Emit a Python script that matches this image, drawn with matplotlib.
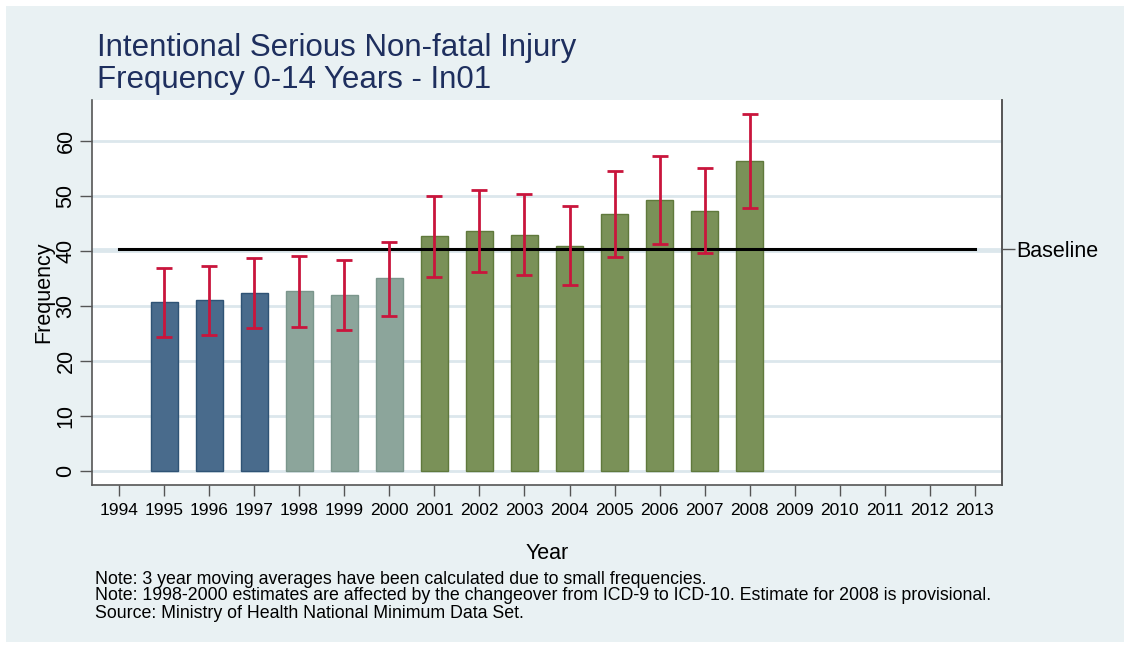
import matplotlib
matplotlib.use("Agg")
import matplotlib.pyplot as plt
from matplotlib.patches import Rectangle

years = [1995, 1996, 1997, 1998, 1999, 2000, 2001, 2002, 2003, 2004, 2005, 2006, 2007, 2008]
freq = [30.6, 31.0, 32.3, 32.6, 31.9, 35.0, 42.6, 43.6, 42.9, 40.9, 46.6, 49.3, 47.3, 56.3]
ci_low = [24.3, 24.6, 25.9, 26.2, 25.5, 28.2, 35.2, 36.1, 35.6, 33.7, 38.9, 41.3, 39.5, 47.8]
ci_high = [36.9, 37.3, 38.7, 39.1, 38.3, 41.6, 50.0, 51.1, 50.3, 48.2, 54.4, 57.3, 55.0, 64.8]
period = ["icd9", "icd9", "icd9", "change", "change", "change",
          "icd10", "icd10", "icd10", "icd10", "icd10", "icd10", "icd10", "icd10"]
baseline = 40.3
xtick_years = list(range(1994, 2014))
yticks = [0, 10, 20, 30, 40, 50, 60]

title_lines = ["Intentional Serious Non-fatal Injury", "Frequency 0-14 Years - In01"]
notes = ["Note: 3 year moving averages have been calculated due to small frequencies.",
         "Note: 1998-2000 estimates are affected by the changeover from ICD-9 to ICD-10. Estimate for 2008 is provisional.",
         "Source: Ministry of Health National Minimum Data Set."]

fill = {"icd9": "#496B8C", "change": "#8CA59B", "icd10": "#7A9158"}
edge = {"icd9": "#2F5375", "change": "#7B968C", "icd10": "#60793C"}

plt.rcParams['font.family'] = ['Liberation Sans', 'DejaVu Sans']

W, H = 1124, 648
fig = plt.figure(figsize=(W / 100, H / 100), dpi=100)
fig.patch.set_facecolor("white")
bg = "#E9F1F3"
fig.patches.append(Rectangle((6 / W, 6 / H), 1 - 6 / W, 1 - 12 / H, transform=fig.transFigure,
                             facecolor=bg, edgecolor="none", zorder=-10))

left, right = 91.7 / W, 1002.3 / W
bottom, top = 1 - 484.7 / H, 1 - 100 / H
ax = fig.add_axes([left, bottom, right - left, top - bottom])
ax.set_facecolor("white")

ax.set_xlim(1993.39, 2013.61)
ax.set_ylim(-2.55, 67.4)

grid_c = "#DCE7EC"
for yv in yticks + [baseline]:
    ax.axhline(yv, color=grid_c, lw=2, zorder=0)

for x, v, p in zip(years, freq, period):
    ax.bar(x, v, width=0.6, color=fill[p], edgecolor=edge[p], linewidth=1.0, zorder=2)

ax.plot([1994, 2013], [baseline, baseline], color="black", lw=2.2, zorder=3)

yerr = [[f - l for f, l in zip(freq, ci_low)], [h - f for f, h in zip(freq, ci_high)]]
ax.errorbar(years, freq, yerr=yerr, fmt="none", ecolor="#C9153C", elinewidth=2,
            capsize=6, capthick=2, zorder=4)

for s in ["left", "bottom", "right"]:
    ax.spines[s].set_color("#555555")
    ax.spines[s].set_linewidth(1.2)
ax.spines["top"].set_visible(False)

ax.set_yticks(yticks)
ax.set_yticklabels([str(v) for v in yticks], rotation=90, va="center", fontsize=15.5)
ax.tick_params(axis="y", length=9, width=1, color="#555555", pad=2)
ax.set_xticks(xtick_years)
ax.set_xticklabels([str(v) for v in xtick_years], fontsize=12.5)
ax.tick_params(axis="x", length=8, width=1, color="#555555", pad=5)

ax.set_ylabel("Frequency", fontsize=15.5, labelpad=1)
ax.set_xlabel("Year", fontsize=15.5, labelpad=18)

ax2 = ax.twinx()
ax2.set_ylim(ax.get_ylim())
ax2.set_yticks([baseline])
ax2.set_yticklabels(["Baseline"], fontsize=15.5)
ax2.tick_params(axis="y", length=9, width=1, color="#555555", pad=1)
for s in ["left", "bottom", "top"]:
    ax2.spines[s].set_visible(False)
ax2.spines["right"].set_color("#555555")
ax2.spines["right"].set_linewidth(1.2)

title_c = "#1E2F5E"
fig.text(97 / W, 1 - 48 / H, title_lines[0], fontsize=22.5, color=title_c, va="center", ha="left")
fig.text(97 / W, 1 - 80 / H, title_lines[1], fontsize=22.5, color=title_c, va="center", ha="left")

for i, line in enumerate(notes):
    fig.text(95 / W, 1 - (579 + 17 * i) / H, line, fontsize=12.8, va="center", ha="left")

fig.savefig("out.png", dpi=100, facecolor=fig.get_facecolor())
